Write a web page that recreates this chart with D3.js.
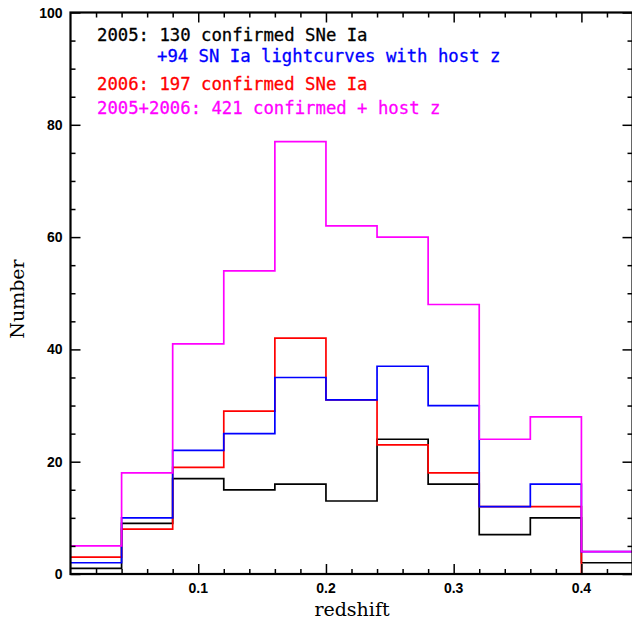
<!DOCTYPE html>
<html>
<head>
<meta charset="utf-8">
<script src="https://cdn.jsdelivr.net/npm/d3@7"></script>
<style>
  body { margin: 0; background: #fff; }
  svg { display: block; }
</style>
</head>
<body>
<script>
// redshift bins, width 0.04
const binEdges = [0, 0.04, 0.08, 0.12, 0.16, 0.20, 0.24, 0.28, 0.32, 0.36, 0.40];
const binEnd = 0.44;

const counts2005 = [1, 9, 17, 15, 16, 13, 24, 16, 7, 10, 2];
const counts2006 = [3, 8, 19, 29, 42, 31, 23, 18, 12, 12, 0];
const countsHostZ = [2, 10, 22, 25, 35, 31, 37, 30, 12, 16, 4];   // 2005 + host z
const countsAll = [5, 18, 41, 54, 77, 62, 60, 48, 24, 28, 4];

const xMajor = [0.1, 0.2, 0.3, 0.4];
const yMajor = [0, 20, 40, 60, 80, 100];

const legendLines = [
    { text: "2005: 130 confirmed SNe Ia", color: "#000000", indent: 0 },
    { text: "+94 SN Ia lightcurves with host z", color: "#0000ff", indent: 1 },
    { text: "2006: 197 confirmed SNe Ia", color: "#ff0000", indent: 0 },
    { text: "2005+2006: 421 confirmed + host z", color: "#ff00ff", indent: 0 }
];

const width = 632, height = 622;
const plotLeft = 70.5, plotRight = 632.5, plotTop = 12.5, plotBottom = 574;

const svg = d3.select("body").append("svg")
    .attr("width", width).attr("height", height);

const x = d3.scaleLinear().domain([0, binEnd]).range([plotLeft, plotRight]);
const y = d3.scaleLinear().domain([0, 100]).range([plotBottom, plotTop]);

// histogram steps, drawn in the same order as the original
const series = [
    { values: counts2005, color: "#000000" },
    { values: counts2006, color: "#ff0000" },
    { values: countsHostZ, color: "#0000ff" },
    { values: countsAll, color: "#ff00ff" }
];

const step = d3.line()
    .x(d => x(d[0]))
    .y(d => y(d[1]))
    .curve(d3.curveStepAfter);

series.forEach(s => {
    const pts = binEdges.map((e, i) => [e, s.values[i]]);
    pts.push([binEnd, s.values[s.values.length - 1]]);
    svg.append("path")
        .attr("d", step(pts))
        .attr("fill", "none")
        .attr("stroke", s.color)
        .attr("stroke-width", 1.7);
});

// axes: ticks inside the frame on all four sides
const xMinor = d3.range(0.02, binEnd, 0.02).filter(v => !xMajor.some(m => Math.abs(m - v) < 1e-6));
const yMinor = d3.range(5, 100, 5).filter(v => v % 20 !== 0);

function noDomain(g) { g.select(".domain").remove(); }

svg.append("g").attr("transform", `translate(0,${plotBottom})`)
    .call(d3.axisTop(x).tickValues(xMajor).tickSize(10).tickFormat("")).call(noDomain);
svg.append("g").attr("transform", `translate(0,${plotBottom})`)
    .call(d3.axisTop(x).tickValues(xMinor).tickSize(5).tickFormat("")).call(noDomain);
svg.append("g").attr("transform", `translate(0,${plotTop})`)
    .call(d3.axisBottom(x).tickValues(xMajor).tickSize(10).tickFormat("")).call(noDomain);
svg.append("g").attr("transform", `translate(0,${plotTop})`)
    .call(d3.axisBottom(x).tickValues(xMinor).tickSize(5).tickFormat("")).call(noDomain);

svg.append("g").attr("transform", `translate(${plotLeft},0)`)
    .call(d3.axisRight(y).tickValues(yMajor).tickSize(10).tickFormat("")).call(noDomain);
svg.append("g").attr("transform", `translate(${plotLeft},0)`)
    .call(d3.axisRight(y).tickValues(yMinor).tickSize(5).tickFormat("")).call(noDomain);
svg.append("g").attr("transform", `translate(${plotRight},0)`)
    .call(d3.axisLeft(y).tickValues(yMajor).tickSize(10).tickFormat("")).call(noDomain);
svg.append("g").attr("transform", `translate(${plotRight},0)`)
    .call(d3.axisLeft(y).tickValues(yMinor).tickSize(5).tickFormat("")).call(noDomain);

svg.selectAll(".tick line").attr("stroke", "#000").attr("stroke-width", 1.5);

svg.append("rect")
    .attr("x", plotLeft).attr("y", plotTop)
    .attr("width", plotRight - plotLeft).attr("height", plotBottom - plotTop)
    .attr("fill", "none").attr("stroke", "#000").attr("stroke-width", 2.2);

// tick labels
svg.append("g").selectAll("text")
    .data(xMajor).enter().append("text")
    .attr("x", d => x(d))
    .attr("y", plotBottom + 19)
    .attr("text-anchor", "middle")
    .attr("font-family", "Liberation Sans, Arial, sans-serif")
    .attr("font-weight", "bold")
    .attr("font-size", 14)
    .text(d => d3.format(".1f")(d));

svg.append("g").selectAll("text")
    .data(yMajor).enter().append("text")
    .attr("x", plotLeft - 8)
    .attr("y", d => y(d) + 5)
    .attr("text-anchor", "end")
    .attr("font-family", "Liberation Sans, Arial, sans-serif")
    .attr("font-weight", "bold")
    .attr("font-size", 14)
    .text(d => d);

// axis titles
svg.append("text")
    .attr("x", 352).attr("y", 616)
    .attr("text-anchor", "middle")
    .attr("font-family", "DejaVu Serif, serif")
    .attr("font-size", 19)
    .text("redshift");

svg.append("text")
    .attr("transform", "translate(24,299) rotate(-90)")
    .attr("text-anchor", "middle")
    .attr("font-family", "DejaVu Serif, serif")
    .attr("font-size", 19)
    .text("Number");

// legend text
const legendY = [41, 62, 90, 114];
svg.append("g").selectAll("text")
    .data(legendLines).enter().append("text")
    .attr("x", d => d.indent ? 157 : 97)
    .attr("y", (d, i) => legendY[i])
    .attr("fill", d => d.color)
    .attr("stroke", d => d.color)
    .attr("stroke-width", 0.3)
    .attr("font-family", "DejaVu Sans Mono, monospace")
    .attr("font-size", 17.3)
    .attr("xml:space", "preserve")
    .text(d => d.text);
</script>
</body>
</html>
